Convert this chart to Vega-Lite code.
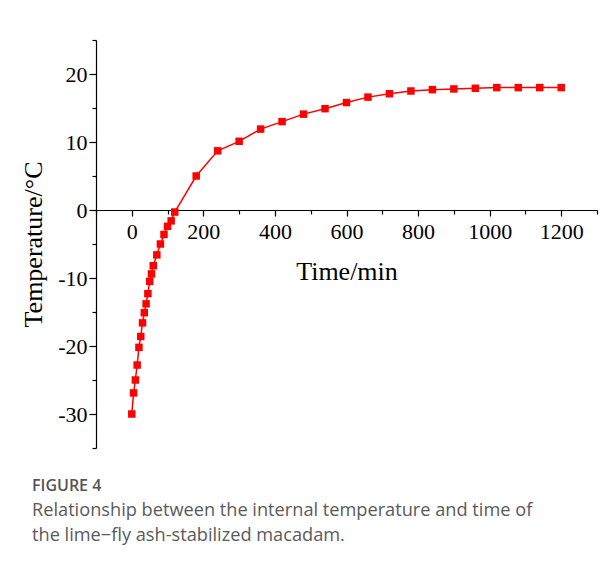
{
  "$schema": "https://vega.github.io/schema/vega-lite/v6.json",
  "width": 501,
  "height": 408,
  "autosize": {"type": "none"},
  "padding": {"left": 96, "top": 40, "right": 15, "bottom": 122},
  "background": "white",
  "data": {
    "values": [
      {"t": 0, "T": -30.0},
      {"t": 5, "T": -26.9},
      {"t": 10, "T": -25.0},
      {"t": 15, "T": -22.8},
      {"t": 20, "T": -20.2},
      {"t": 25, "T": -18.6},
      {"t": 30, "T": -16.6},
      {"t": 35, "T": -15.1},
      {"t": 40, "T": -13.8},
      {"t": 45, "T": -12.3},
      {"t": 50, "T": -10.5},
      {"t": 55, "T": -9.4},
      {"t": 60, "T": -8.2},
      {"t": 70, "T": -6.6},
      {"t": 80, "T": -5.0},
      {"t": 90, "T": -3.6},
      {"t": 100, "T": -2.4},
      {"t": 110, "T": -1.6},
      {"t": 120, "T": -0.3},
      {"t": 180, "T": 5.0},
      {"t": 240, "T": 8.7},
      {"t": 300, "T": 10.1},
      {"t": 360, "T": 11.9},
      {"t": 420, "T": 13.0},
      {"t": 480, "T": 14.1},
      {"t": 540, "T": 14.9},
      {"t": 600, "T": 15.8},
      {"t": 660, "T": 16.6},
      {"t": 720, "T": 17.1},
      {"t": 780, "T": 17.5},
      {"t": 840, "T": 17.7},
      {"t": 900, "T": 17.8},
      {"t": 960, "T": 17.9},
      {"t": 1020, "T": 18.0},
      {"t": 1080, "T": 18.0},
      {"t": 1140, "T": 18.0},
      {"t": 1200, "T": 18.0}
    ]
  },
  "encoding": {
    "x": {
      "field": "t",
      "type": "quantitative",
      "scale": {"domain": [-100, 1300], "nice": false, "zero": false},
      "axis": {
        "title": "Time/min",
        "orient": "bottom",
        "offset": -238,
        "values": [-100, 0, 100, 200, 300, 400, 500, 600, 700, 800, 900, 1000, 1100, 1200, 1300],
        "labelExpr": "datum.value % 200 == 0 && datum.value >= 0 && datum.value <= 1200 ? '' + datum.value : ''",
        "tickSize": {"condition": {"test": "datum.value % 200 != 0", "value": 4}, "value": 6},
        "labelPadding": 5,
        "titlePadding": 16,
        "labelFlush": false,
        "labelOverlap": false
      }
    },
    "y": {
      "field": "T",
      "type": "quantitative",
      "scale": {"domain": [-35, 25], "nice": false, "zero": false},
      "axis": {
        "title": "Temperature/°C",
        "orient": "left",
        "values": [-35, -30, -25, -20, -15, -10, -5, 0, 5, 10, 15, 20, 25],
        "labelExpr": "datum.value % 10 == 0 ? '' + datum.value : ''",
        "tickSize": {"condition": {"test": "datum.value % 10 != 0", "value": 4}, "value": 7},
        "labelPadding": 2,
        "titlePadding": 11,
        "labelFlush": false,
        "labelOverlap": false
      }
    }
  },
  "layer": [
    {"mark": {"type": "line", "color": "#ff0000", "strokeWidth": 1.5}},
    {"mark": {"type": "point", "shape": "square", "filled": true, "color": "#ff0000", "opacity": 1, "size": 56}}
  ],
  "title": {
    "text": "FIGURE 4",
    "subtitle": ["Relationship between the internal temperature and time of", "the lime−fly ash-stabilized macadam."],
    "orient": "bottom",
    "anchor": "start",
    "frame": "group",
    "dx": -64,
    "offset": 19,
    "font": "Open Sans",
    "fontSize": 16,
    "fontWeight": 600,
    "color": "#555555",
    "subtitleFont": "Open Sans",
    "subtitleFontSize": 18.2,
    "subtitleColor": "#5a5a5a",
    "subtitleLineHeight": 25,
    "subtitlePadding": 8
  },
  "config": {
    "view": {"stroke": null},
    "axis": {
      "grid": false,
      "domainColor": "black",
      "domainWidth": 1.2,
      "tickColor": "black",
      "tickWidth": 1.2,
      "labelColor": "black",
      "titleColor": "black",
      "labelFont": "Liberation Serif",
      "titleFont": "Liberation Serif",
      "labelFontSize": 22,
      "titleFontSize": 26,
      "titleFontWeight": "normal"
    }
  }
}
